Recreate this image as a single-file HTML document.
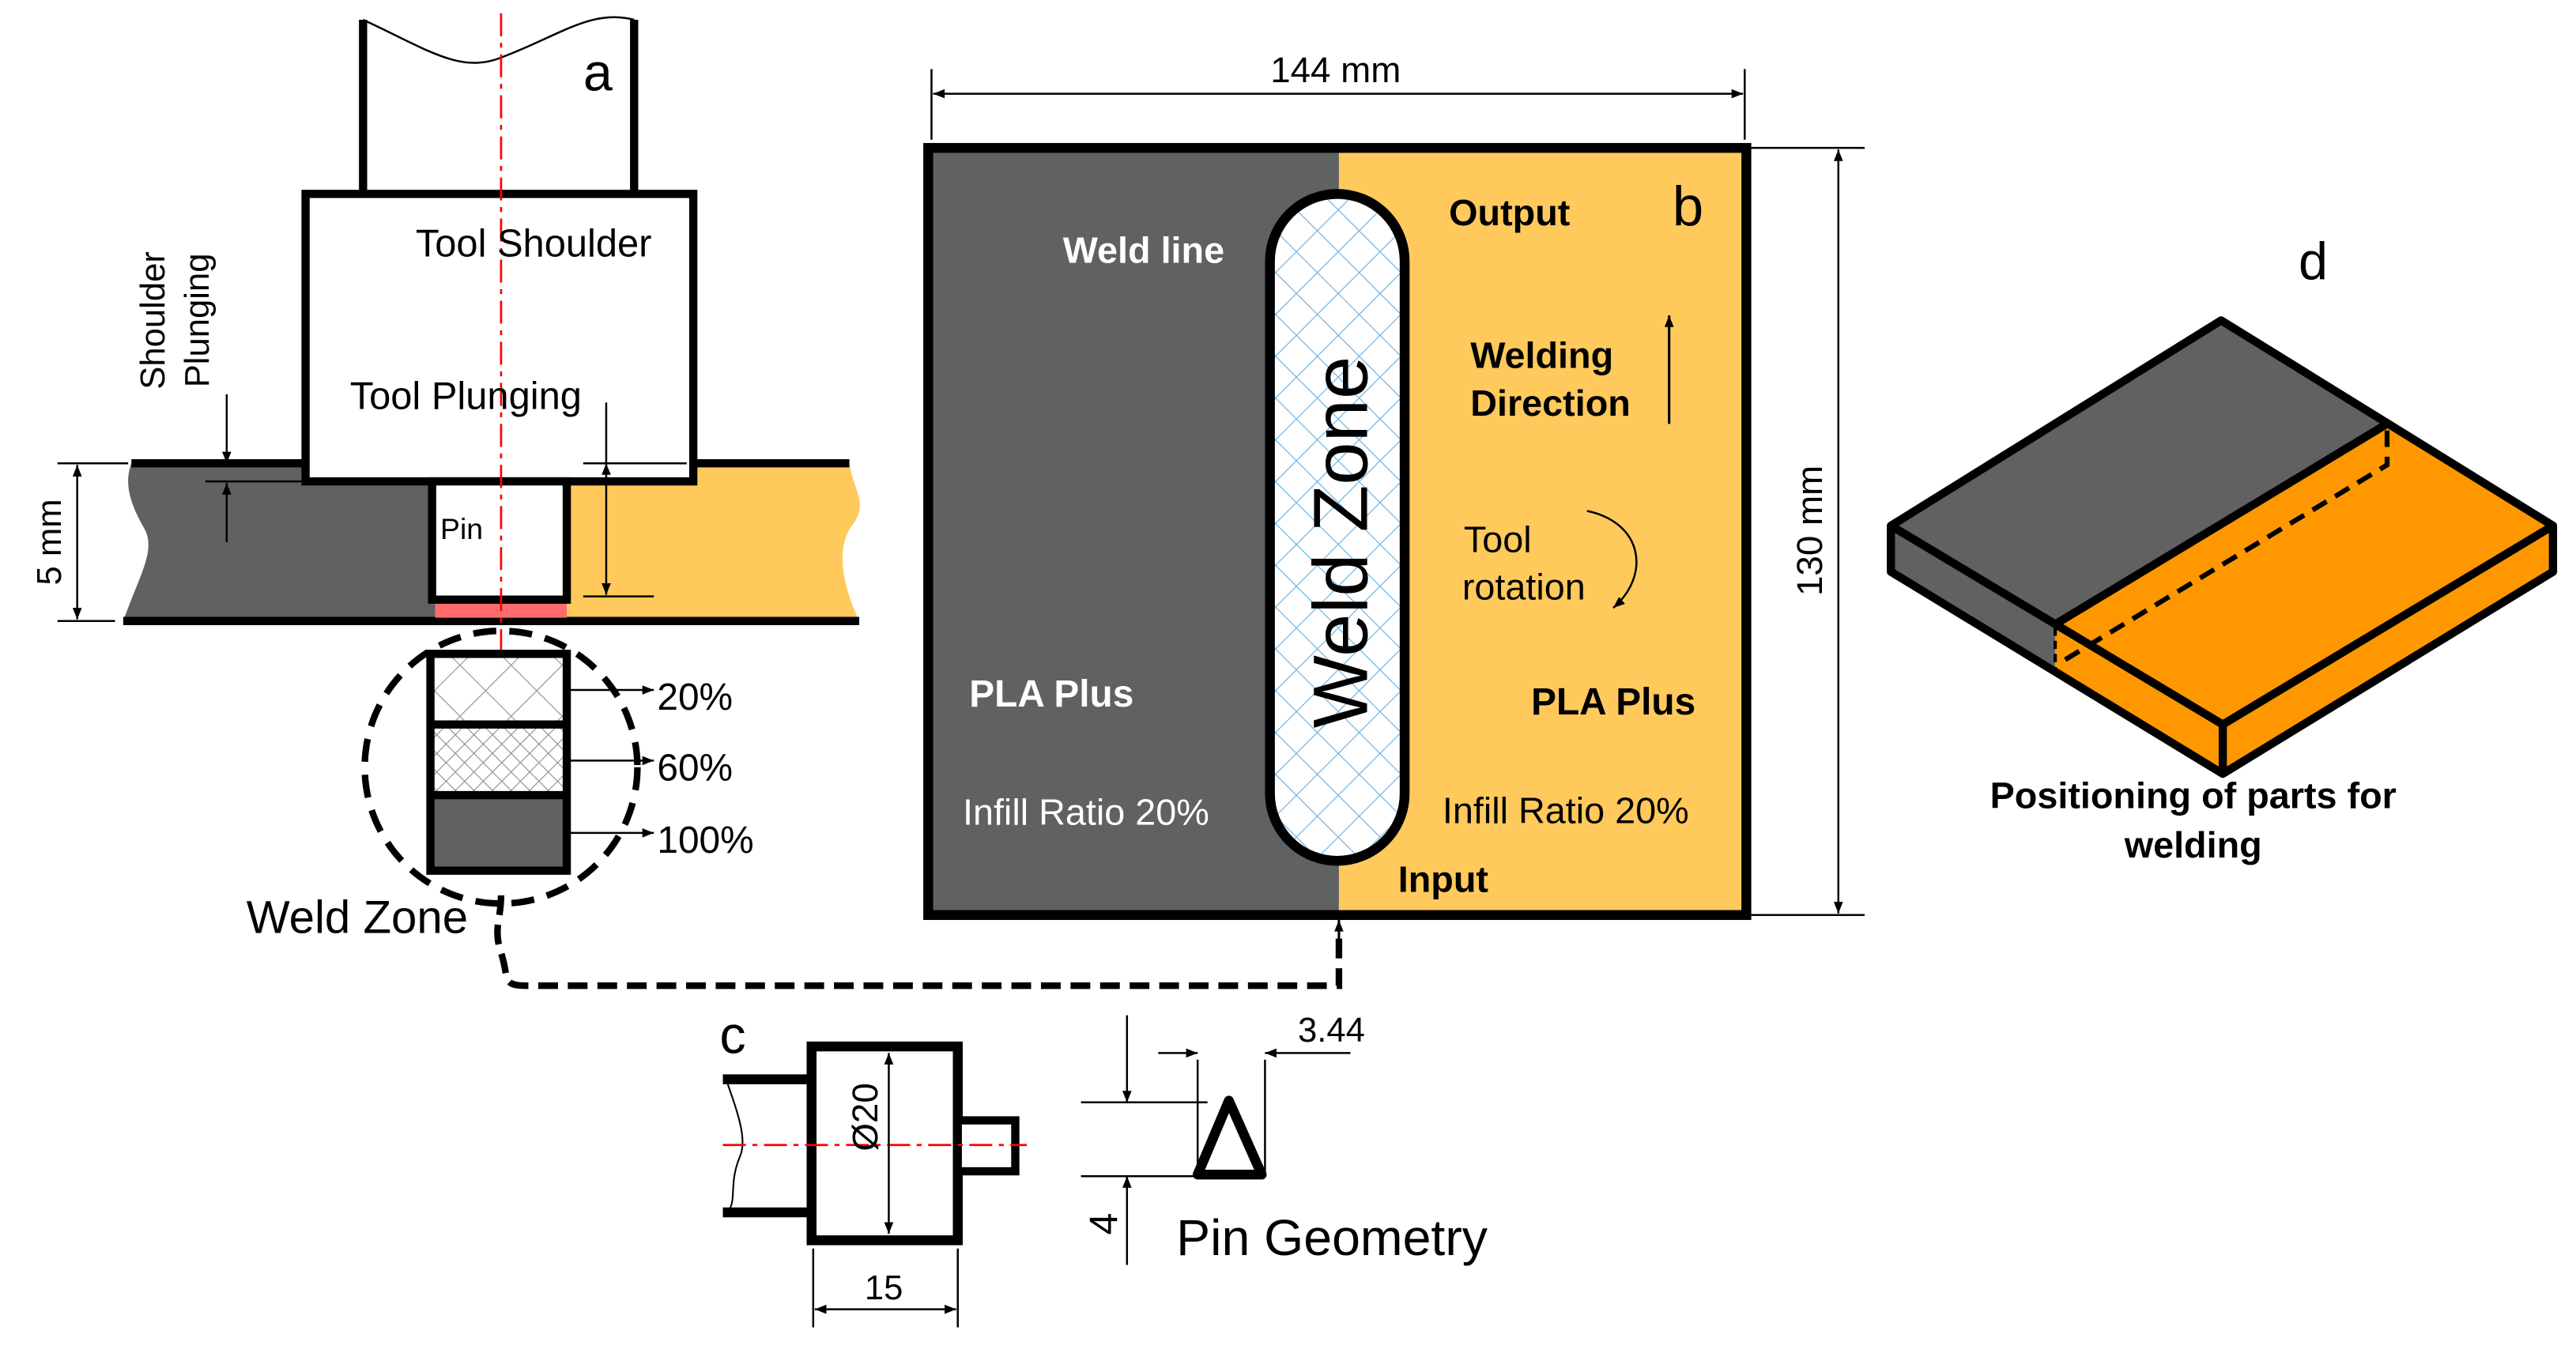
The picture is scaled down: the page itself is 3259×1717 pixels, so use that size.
<!DOCTYPE html>
<html><head><meta charset="utf-8"><style>html,body{margin:0;padding:0;background:#fff}svg{display:block}</style></head><body>
<svg width="3259" height="1717" viewBox="0 0 1568 826" xmlns="http://www.w3.org/2000/svg" font-family="Liberation Sans, Arial, sans-serif">
<defs>
<pattern id="h1" width="22" height="22" patternUnits="userSpaceOnUse" patternTransform="rotate(45)"><path d="M0 0H22M0 0V22" stroke="#999" stroke-width="1.2"/></pattern>
<pattern id="h2" width="8" height="8" patternUnits="userSpaceOnUse" patternTransform="rotate(45)"><path d="M0 0H8M0 0V8" stroke="#888" stroke-width="1"/></pattern>
<pattern id="hb" width="18" height="18" patternUnits="userSpaceOnUse" patternTransform="rotate(45)"><path d="M0 0H18M0 0V18" stroke="#6fb6e8" stroke-width="1.2"/></pattern>
<marker id="ar" viewBox="0 0 10 10" refX="10" refY="5" markerWidth="10" markerHeight="7" orient="auto-start-reverse" markerUnits="userSpaceOnUse"><path d="M0 1L10 5L0 9z" fill="#000"/></marker>
</defs>
<rect width="1568" height="826" fill="#fff"/>
<!-- panel a -->
<path d="M80 282H265V378H75C85 350 95 335 88 322C80 308 75 295 80 282Z" fill="#5f6163"/>
<path d="M345 282H517C520 300 528 305 520 318C510 330 510 350 523 378H345Z" fill="#ffc95c"/>
<line x1="80" y1="282" x2="186" y2="282" stroke="#000" stroke-width="5"/>
<line x1="422" y1="282" x2="517" y2="282" stroke="#000" stroke-width="5"/>
<line x1="75" y1="378" x2="523" y2="378" stroke="#000" stroke-width="5"/>
<rect x="265" y="366" width="80" height="10" fill="#ff6b6b"/>
<path d="M221 12C260 30 280 45 305 35C340 22 360 5 386 12" fill="none" stroke="#000" stroke-width="1.2"/>
<line x1="221" y1="12" x2="221" y2="118" stroke="#000" stroke-width="5"/>
<line x1="386" y1="12" x2="386" y2="118" stroke="#000" stroke-width="5"/>
<rect x="186" y="118" width="236" height="175" fill="#fff" stroke="#000" stroke-width="5"/>
<rect x="263" y="293" width="82" height="72" fill="#fff" stroke="#000" stroke-width="5"/>
<line x1="305" y1="8" x2="305" y2="400" stroke="#f00" stroke-width="1.3" stroke-dasharray="14 4 3 4"/>
<text x="355" y="55" font-size="32">a</text>
<text x="253" y="156" font-size="23.5">Tool Shoulder</text>
<text x="213" y="249" font-size="23.5">Tool Plunging</text>
<text x="268" y="328" font-size="18">Pin</text>
<text transform="translate(100,195) rotate(-90)" font-size="21" text-anchor="middle">Shoulder</text>
<text transform="translate(127,195) rotate(-90)" font-size="21" text-anchor="middle">Plunging</text>
<line x1="138" y1="240" x2="138" y2="282" stroke="#000" stroke-width="1.2" marker-end="url(#ar)"/>
<line x1="138" y1="330" x2="138" y2="294" stroke="#000" stroke-width="1.2" marker-end="url(#ar)"/>
<line x1="125" y1="293" x2="185" y2="293" stroke="#000" stroke-width="1.2"/>
<line x1="35" y1="282" x2="78" y2="282" stroke="#000" stroke-width="1.2"/>
<line x1="35" y1="378" x2="70" y2="378" stroke="#000" stroke-width="1.2"/>
<line x1="47" y1="283" x2="47" y2="377" stroke="#000" stroke-width="1.2" marker-start="url(#ar)" marker-end="url(#ar)"/>
<text transform="translate(37,330) rotate(-90)" font-size="21" text-anchor="middle">5 mm</text>
<line x1="369" y1="245" x2="369" y2="282" stroke="#000" stroke-width="1.2"/>
<line x1="369" y1="282" x2="369" y2="362" stroke="#000" stroke-width="1.2" marker-start="url(#ar)" marker-end="url(#ar)"/>
<line x1="355" y1="282" x2="418" y2="282" stroke="#000" stroke-width="1.2"/>
<line x1="355" y1="363" x2="398" y2="363" stroke="#000" stroke-width="1.2"/>
<circle cx="305" cy="467" r="83" fill="none" stroke="#000" stroke-width="4" stroke-dasharray="14 8"/>
<rect x="264" y="400" width="79" height="41" fill="url(#h1)"/>
<rect x="264" y="441" width="79" height="43" fill="url(#h2)"/>
<rect x="264" y="484" width="79" height="46" fill="#5f6163"/>
<rect x="262" y="398" width="83" height="132" fill="none" stroke="#000" stroke-width="5"/>
<line x1="262" y1="441" x2="345" y2="441" stroke="#000" stroke-width="5"/>
<line x1="262" y1="484" x2="345" y2="484" stroke="#000" stroke-width="5"/>
<line x1="345" y1="420" x2="398" y2="420" stroke="#000" stroke-width="1.2" marker-end="url(#ar)"/>
<line x1="345" y1="463" x2="398" y2="463" stroke="#000" stroke-width="1.2" marker-end="url(#ar)"/>
<line x1="345" y1="507" x2="398" y2="507" stroke="#000" stroke-width="1.2" marker-end="url(#ar)"/>
<text x="400" y="432" font-size="23">20%</text>
<text x="400" y="475" font-size="23">60%</text>
<text x="400" y="519" font-size="23">100%</text>
<text x="150" y="568" font-size="28">Weld Zone</text>
<path d="M305 545C305 560 300 565 305 580C310 595 305 600 320 600H815V570" fill="none" stroke="#000" stroke-width="4" stroke-dasharray="12 6"/>
<line x1="815" y1="575" x2="815" y2="560" stroke="#000" stroke-width="1.5" marker-end="url(#ar)"/>
<!-- panel b -->
<rect x="565" y="90" width="250" height="467" fill="#5f6163"/>
<rect x="815" y="90" width="248" height="467" fill="#ffc95c"/>
<rect x="565" y="90" width="498" height="467" fill="none" stroke="#000" stroke-width="6"/>
<rect x="773" y="118" width="82" height="406" rx="41" fill="#fff"/>
<rect x="773" y="118" width="82" height="406" rx="41" fill="url(#hb)" stroke="#000" stroke-width="6"/>
<text transform="translate(832,330) rotate(-90)" font-size="47" text-anchor="middle">Weld Zone</text>
<line x1="567" y1="42" x2="567" y2="85" stroke="#000" stroke-width="1.2"/>
<line x1="1062" y1="42" x2="1062" y2="85" stroke="#000" stroke-width="1.2"/>
<line x1="568" y1="57" x2="1061" y2="57" stroke="#000" stroke-width="1.2" marker-start="url(#ar)" marker-end="url(#ar)"/>
<text x="813" y="50" font-size="22" text-anchor="middle">144 mm</text>
<line x1="1066" y1="90" x2="1135" y2="90" stroke="#000" stroke-width="1.2"/>
<line x1="1066" y1="557" x2="1135" y2="557" stroke="#000" stroke-width="1.2"/>
<line x1="1119" y1="91" x2="1119" y2="556" stroke="#000" stroke-width="1.2" marker-start="url(#ar)" marker-end="url(#ar)"/>
<text transform="translate(1109,323) rotate(-90)" font-size="22" text-anchor="middle">130 mm</text>
<text x="647" y="160" font-size="22.5" font-weight="bold" fill="#fff">Weld line</text>
<text x="882" y="137" font-size="22.5" font-weight="bold">Output</text>
<text x="1018" y="137" font-size="34">b</text>
<text x="895" y="224" font-size="22.5" font-weight="bold">Welding</text>
<text x="895" y="253" font-size="22.5" font-weight="bold">Direction</text>
<line x1="1016" y1="258" x2="1016" y2="192" stroke="#000" stroke-width="1.5" marker-end="url(#ar)"/>
<text x="891" y="336" font-size="22.5">Tool</text>
<text x="890" y="365" font-size="22.5">rotation</text>
<path d="M966 311C1000 318 1005 350 982 370" fill="none" stroke="#000" stroke-width="1.2" marker-end="url(#ar)"/>
<text x="590" y="430" font-size="23" font-weight="bold" fill="#fff">PLA Plus</text>
<text x="932" y="435" font-size="23" font-weight="bold">PLA Plus</text>
<text x="586" y="502" font-size="22.5" fill="#fff">Infill Ratio 20%</text>
<text x="878" y="501" font-size="22.5">Infill Ratio 20%</text>
<text x="851" y="543" font-size="22.5" font-weight="bold">Input</text>
<!-- panel c -->
<text x="438" y="641" font-size="32">c</text>
<line x1="440" y1="657" x2="494" y2="657" stroke="#000" stroke-width="6"/>
<line x1="440" y1="738" x2="494" y2="738" stroke="#000" stroke-width="6"/>
<path d="M443 660C450 680 455 695 450 705C444 720 448 730 444 736" fill="none" stroke="#000" stroke-width="1"/>
<rect x="494" y="637" width="89" height="118" fill="#fff" stroke="#000" stroke-width="6"/>
<rect x="583" y="682" width="35" height="31" fill="#fff" stroke="#000" stroke-width="5"/>
<line x1="440" y1="697" x2="625" y2="697" stroke="#f00" stroke-width="1.3" stroke-dasharray="14 4 3 4"/>
<line x1="541" y1="641" x2="541" y2="751" stroke="#000" stroke-width="1.2" marker-start="url(#ar)" marker-end="url(#ar)"/>
<text transform="translate(534,680) rotate(-90)" font-size="22" text-anchor="middle">Ø20</text>
<line x1="495" y1="760" x2="495" y2="808" stroke="#000" stroke-width="1.2"/>
<line x1="583" y1="760" x2="583" y2="808" stroke="#000" stroke-width="1.2"/>
<line x1="496" y1="797" x2="582" y2="797" stroke="#000" stroke-width="1.2" marker-start="url(#ar)" marker-end="url(#ar)"/>
<text x="538" y="791" font-size="21" text-anchor="middle">15</text>
<polygon points="748,670 729,715 768,715" fill="#fff" stroke="#000" stroke-width="6" stroke-linejoin="round"/>
<line x1="686" y1="618" x2="686" y2="671" stroke="#000" stroke-width="1.2" marker-end="url(#ar)"/>
<line x1="686" y1="770" x2="686" y2="716" stroke="#000" stroke-width="1.2" marker-end="url(#ar)"/>
<line x1="658" y1="671" x2="735" y2="671" stroke="#000" stroke-width="1.2"/>
<line x1="658" y1="716" x2="730" y2="716" stroke="#000" stroke-width="1.2"/>
<text transform="translate(680,745) rotate(-90)" font-size="24" text-anchor="middle">4</text>
<line x1="729" y1="645" x2="729" y2="715" stroke="#000" stroke-width="1.2"/>
<line x1="770" y1="645" x2="770" y2="715" stroke="#000" stroke-width="1.2"/>
<line x1="705" y1="641" x2="729" y2="641" stroke="#000" stroke-width="1.2" marker-end="url(#ar)"/>
<line x1="822" y1="641" x2="770" y2="641" stroke="#000" stroke-width="1.2" marker-end="url(#ar)"/>
<text x="790" y="634" font-size="21">3.44</text>
<text x="716" y="764" font-size="31">Pin Geometry</text>
<!-- panel d -->
<text x="1408" y="170" font-size="32" text-anchor="middle">d</text>
<polygon points="1151,320 1352,195 1554,320 1353,441" fill="#ff9800"/>
<polygon points="1151,320 1352,195 1453,258 1251,380" fill="#5f6163"/>
<polygon points="1151,320 1251,380 1251,406 1151,348" fill="#5f6163"/>
<polygon points="1251,380 1353,441 1353,471 1251,410" fill="#ff9800"/>
<polygon points="1353,441 1554,320 1554,348 1353,471" fill="#ff9800"/>
<g fill="none" stroke="#000" stroke-width="5" stroke-linejoin="round">
<polygon points="1151,320 1352,195 1554,320 1554,348 1353,471 1151,348"/>
<polyline points="1151,320 1353,441 1554,320"/>
<line x1="1353" y1="441" x2="1353" y2="471"/>
<line x1="1453" y1="258" x2="1251" y2="380"/>
</g>
<polyline points="1453,262 1453,283 1253,404" fill="none" stroke="#000" stroke-width="3" stroke-dasharray="10 6"/>
<line x1="1251" y1="382" x2="1251" y2="408" stroke="#000" stroke-width="2" stroke-dasharray="5 3"/>
<text x="1335" y="492" font-size="22.5" font-weight="bold" text-anchor="middle">Positioning of parts for</text>
<text x="1335" y="522" font-size="22.5" font-weight="bold" text-anchor="middle">welding</text>
</svg>
</body></html>
